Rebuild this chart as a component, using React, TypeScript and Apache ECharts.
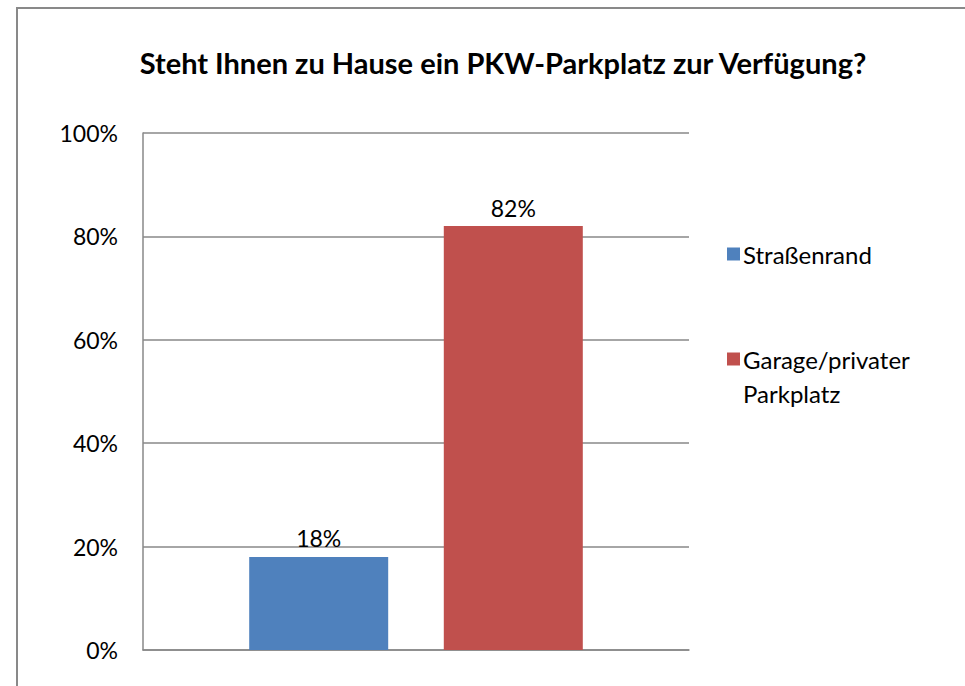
import React, { useEffect, useRef } from "react";
import * as echarts from "echarts";

const categories = [""];
const seriesNames = ["Straßenrand", "Garage/privater Parkplatz"];
const seriesValues = [0.18, 0.82];
const seriesColors = ["#4F81BD", "#C0504D"];
const yTicks = [0, 0.2, 0.4, 0.6, 0.8, 1.0];
const titleText = "Steht Ihnen zu Hause ein PKW-Parkplatz zur Verfügung?";

const FONT = "Lato, 'Open Sans', sans-serif";

export default function App() {
  const ref = useRef<HTMLDivElement>(null);
  useEffect(() => {
    if (!ref.current) return;
    const chart = echarts.init(ref.current, undefined, { renderer: "svg" });
    const pct = (v: number) => `${Math.round(v * 100)}%`;
    chart.setOption({
      animation: false,
      backgroundColor: "#ffffff",
      title: {
        text: titleText,
        left: 498,
        textAlign: "center",
        top: 43,
        textStyle: { fontFamily: FONT, fontSize: 29, fontWeight: "bold", color: "#000" },
      },
      grid: { left: 143, right: 276, top: 133, bottom: 36, containLabel: false },
      legend: [
        {
          orient: "vertical",
          left: 722,
          top: 237,
          icon: "rect",
          itemWidth: 13,
          itemHeight: 13,
          data: [seriesNames[0]],
          textStyle: { fontFamily: FONT, fontSize: 24, color: "#000", padding: [0, 0, 0, -2] },
        },
        {
          orient: "vertical",
          left: 722,
          top: 342,
          icon: "rect",
          itemWidth: 13,
          itemHeight: 13,
          data: [seriesNames[1]],
          formatter: () => "Garage/privater",
          textStyle: { fontFamily: FONT, fontSize: 24, color: "#000", padding: [0, 0, 0, -2] },
        },
      ],
      graphic: [
        {
          type: "rect",
          shape: { x: 17, y: 8, width: 1100, height: 900 },
          style: { fill: "none", stroke: "#898989", lineWidth: 2 },
          silent: true,
          z: -1,
        },
        {
          type: "text",
          left: 743,
          top: 381,
          style: { text: "Parkplatz", font: `24px ${FONT}`, fill: "#000" },
        },
      ],
      xAxis: {
        type: "category",
        data: categories,
        axisLine: { show: true, lineStyle: { color: "#888", width: 1.5 } },
        axisTick: { show: false },
        axisLabel: { show: false },
      },
      yAxis: {
        type: "value",
        min: 0,
        max: 1,
        interval: 0.2,
        axisLine: { show: true, lineStyle: { color: "#888", width: 1.5 } },
        axisTick: { show: false },
        splitLine: { show: true, lineStyle: { color: "#888", width: 1.5 } },
        axisLabel: {
          margin: 25,
          fontFamily: FONT,
          fontSize: 23,
          color: "#000",
          formatter: (v: number) => (yTicks.some((t) => Math.abs(t - v) < 1e-9) ? pct(v) : ""),
        },
      },
      series: seriesNames.map((name, i) => ({
        name,
        type: "bar",
        data: [seriesValues[i]],
        barWidth: 139,
        barGap: "40%",
        itemStyle: { color: seriesColors[i] },
        label: {
          show: true,
          position: "top",
          distance: 7,
          fontFamily: FONT,
          fontSize: 23,
          color: "#000",
          formatter: (p: any) => pct(p.value),
        },
      })),
    });
    return () => chart.dispose();
  }, []);
  return (
    <div
      ref={ref}
      style={{ position: "fixed", left: 0, top: 0, width: 965, height: 686 }}
    />
  );
}
